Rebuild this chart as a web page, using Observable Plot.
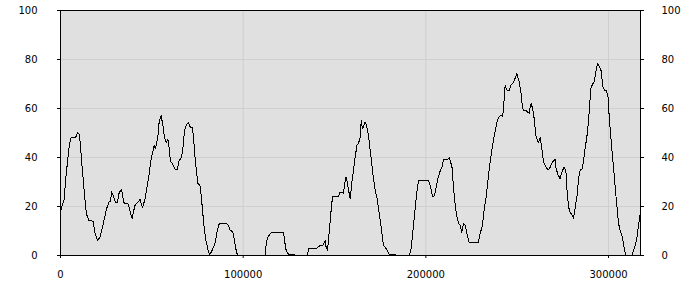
<!DOCTYPE html>
<html>
<head>
<meta charset="utf-8">
<script src="https://cdn.jsdelivr.net/npm/d3@7"></script>
<script src="https://cdn.jsdelivr.net/npm/@observablehq/plot@0.6"></script>
<style>
  html, body { margin: 0; padding: 0; background: #fff; }
</style>
</head>
<body>
<div id="chart"></div>
<script>
const xs = [0,2000,2700,3800,4800,5700,8200,9300,10400,11200,11900,13000,14200,15500,17900,18800,20300,21600,23400,25200,26500,27400,27900,28800,30100,31200,32100,33400,34700,37100,38000,39200,40700,42100,43500,44900,46200,47100,48400,49300,50400,51300,52000,53300,54000,55100,56100,56900,57900,58800,59500,60200,61300,62800,63900,65000,66100,66800,67900,68800,69900,71000,72300,73000,73700,74700,75200,76300,77000,77700,78500,79600,80700,81600,82500,83800,84700,85800,86900,91100,92000,92900,94200,95100,96000,96900,112100,112600,113300,114400,115300,122100,122600,123200,123900,125000,135200,135800,140400,141200,143600,144900,145400,146200,146900,147600,148200,148900,152200,153100,154200,154900,155500,156200,156800,157700,158600,159500,160400,161300,162300,163100,164100,164600,165300,166100,166800,167700,168600,169500,170500,171300,172300,173500,174600,175900,176800,177700,179000,180100,190900,191800,192700,193600,194500,195300,196000,201400,202400,203600,204600,205700,206600,207500,208800,209700,211800,212900,214300,215100,216100,217000,217900,218800,219700,220600,221500,222500,223700,228800,229700,231000,232100,233000,234000,234800,236100,237000,238000,238900,239800,241100,242000,242500,243400,244400,245600,246600,247600,248500,249800,251100,252000,252700,253400,254800,255600,256600,257100,257700,258400,259300,260200,261100,261700,262600,263500,264400,265300,266300,267100,268100,269300,270800,271300,272300,273500,274500,275700,276700,277200,278100,279000,280300,280800,281800,282700,283600,284500,285700,286800,287600,288500,289400,290300,291200,292200,293100,294000,295100,296000,296900,297800,298700,299700,300500,301800,303100,304200,305500,306400,307600,308600,309500,312800,313700,314600,315500,316400,317500];
const ys = [18,23,30,38,45,48,48,50,49.4,42,35.6,26,17,14.3,14,9.5,6.1,7.5,13,19,21.8,22,26,24.5,21.8,21.8,25.6,27,21.5,21,18.4,15,20.4,21.5,22.9,19.4,22.9,26.6,32.7,38,42,45,43.6,48.4,54.5,57,53,48.4,46,47.3,43.6,38.4,37.5,35.2,35.2,38.9,39.8,42.3,51,53,54.3,52.5,52,46.3,39.5,32.7,29.3,28.9,24.5,19,12.3,6.1,2.5,0.3,1.4,3.4,5.4,10.2,13,13,12.3,10.2,9.8,6.8,2.7,0,0,4.8,7.1,8.5,9.3,9.3,6.8,3,1.4,0.3,0,3,3,3.8,4.1,6.1,3.4,2,8.2,13.6,19,23.9,24.1,25.9,25.9,25.5,28.9,32,30.7,26.6,23.2,30,34.8,40.2,45,45.7,48.4,55.2,51.8,53,54.5,52.5,49,43,36.8,31.4,26.6,22.5,16.4,9.5,4.1,3.4,2,0.3,0,2,8.2,15,21.8,27.3,30.7,30.7,28.6,24.1,24.3,27.9,31.4,33.8,36.1,39.1,39.1,40,36.1,27.9,20.4,15.7,13.2,12.3,9.5,13,12.3,8.9,5.4,5.4,8.9,12.3,19.8,23.9,30.7,36.1,43,47,51,54.5,56.3,57.3,56.6,60,69.5,67.5,67.2,69.5,70.2,71.6,74.3,70.9,66.8,62,59,59.3,58.6,58,60.7,62,60,55.9,49,47,46,48.4,43.6,38.2,36.8,35.5,35,36.1,38.2,39.3,35.5,33,31.4,34.1,36.1,34.1,27.3,19.8,17.7,16,15.3,19.8,23.9,31.4,34.8,35.5,41.6,45.7,50.4,58.6,68.2,69.8,70.9,75.3,78.4,77,75.3,68.8,67.5,67.5,64.8,55.2,43.6,32.7,23.2,13,10.2,7.5,2.7,0,0,2,4.1,6.8,12.3,18];
const xTicks = [0, 100000, 200000, 300000];
const yTicks = [0, 20, 40, 60, 80, 100];
const yGrid = [20, 40, 60, 80];
const xGrid = [100000, 200000, 300000];

const data = xs.map((x, i) => ({x, y: ys[i]}));

const chart = Plot.plot({
  width: 700,
  height: 300,
  marginLeft: 60,
  marginRight: 60,
  marginTop: 10,
  marginBottom: 45,
  style: {fontFamily: "DejaVu Sans", fontSize: "10px", color: "#000", background: "#fff"},
  x: {domain: [0, 317500]},
  y: {domain: [0, 100]},
  marks: [
    Plot.frame({fill: "#e0e0e0", stroke: null}),
    Plot.gridY(yGrid, {stroke: "#cfcfcf", strokeOpacity: 1}),
    Plot.gridX(xGrid, {stroke: "#cfcfcf", strokeOpacity: 1}),
    Plot.line(data, {x: "x", y: "y", stroke: "#000", strokeWidth: 1, shapeRendering: "crispEdges"}),
    Plot.frame({stroke: "#000", strokeWidth: 1}),
    Plot.axisY(yTicks, {anchor: "left", tickSize: 3, tickPadding: 20, tickFormat: d => String(d), label: null}),
    Plot.axisY(yTicks, {anchor: "right", tickSize: 3, tickPadding: 18, tickFormat: d => String(d), label: null}),
    Plot.axisX(xTicks, {anchor: "bottom", tickSize: 3, tickPadding: 12, tickFormat: d => String(d), label: null})
  ]
});
document.getElementById("chart").appendChild(chart);
</script>
</body>
</html>
